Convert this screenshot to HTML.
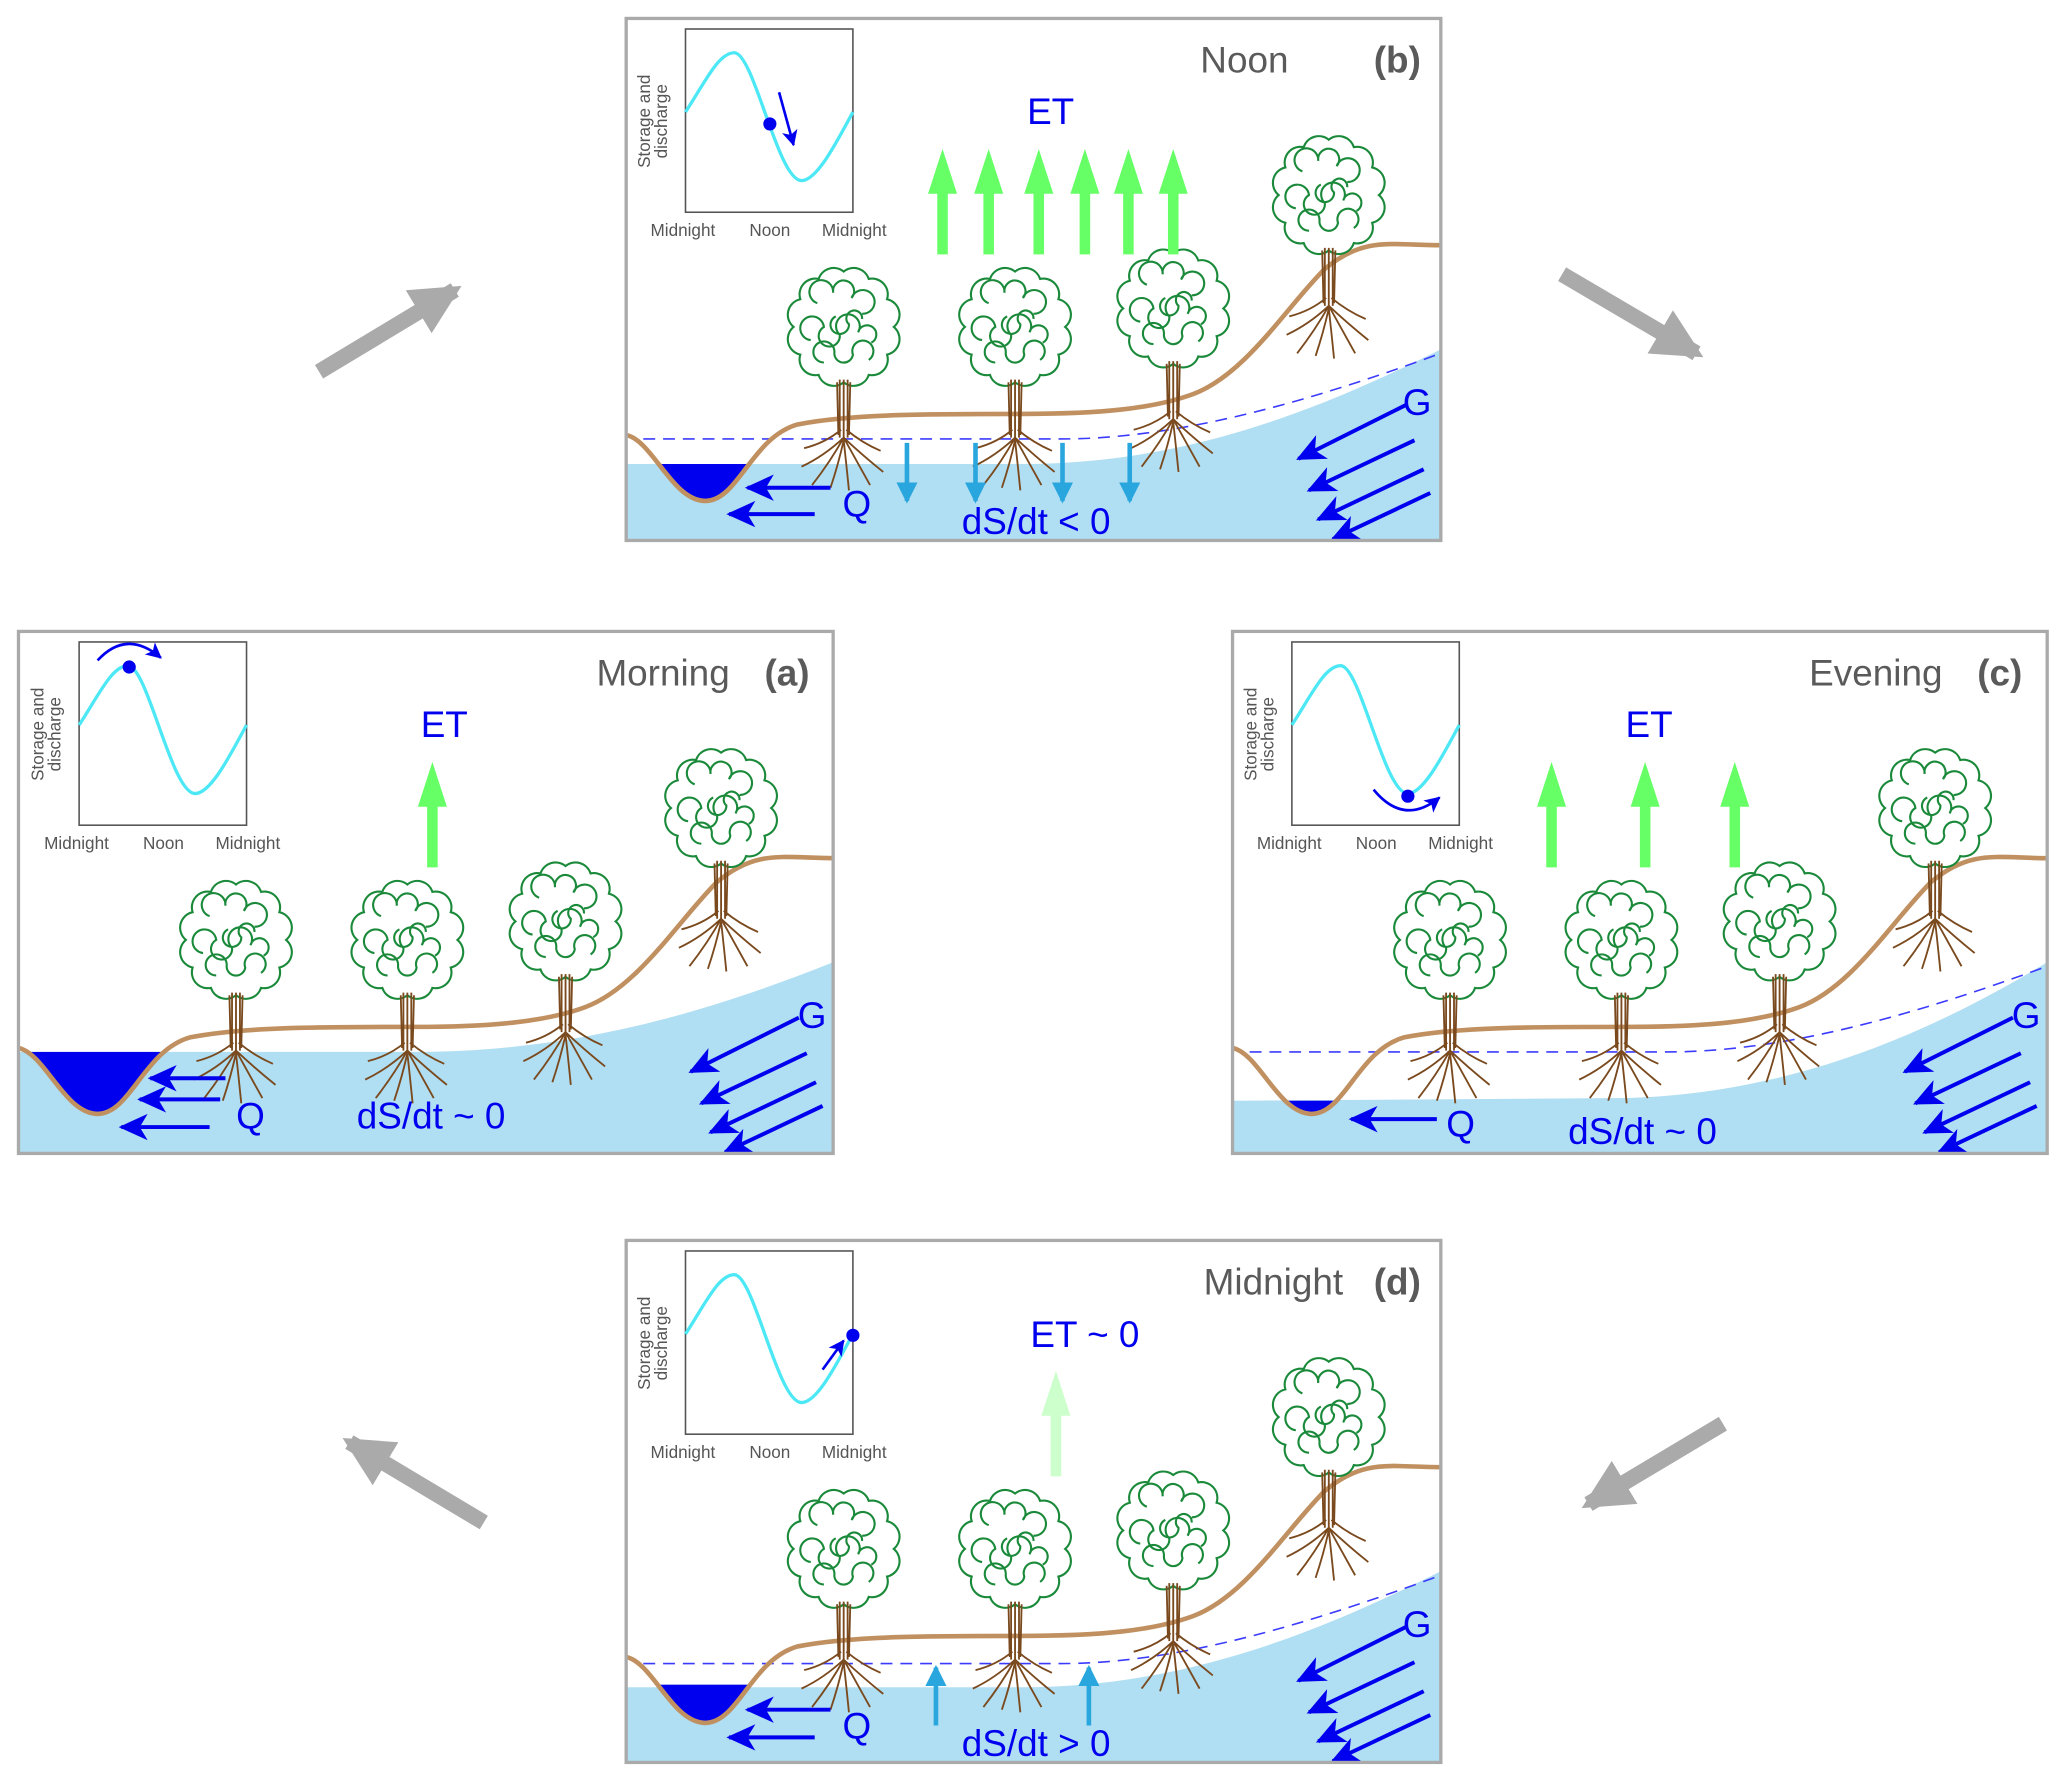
<!DOCTYPE html>
<html><head><meta charset="utf-8"><style>
html,body{margin:0;padding:0;background:#fff}
svg{display:block}
text{font-family:"Liberation Sans",sans-serif}
</style></head><body>
<svg width="2067" height="1783" viewBox="0 0 1568 1352.6" xmlns="http://www.w3.org/2000/svg">
<defs>
<marker id="bh" markerUnits="userSpaceOnUse" markerWidth="26" markerHeight="20" refX="20" refY="10" orient="auto"><path d="M0,0 L22,10 L0,20 L6,10 Z" fill="#0000ee"/></marker>
<marker id="bs" markerUnits="userSpaceOnUse" markerWidth="14" markerHeight="12" refX="11" refY="6" orient="auto"><path d="M0,0 L12,6 L0,12 L3,6 Z" fill="#0000ee"/></marker>
<marker id="lb" markerUnits="userSpaceOnUse" markerWidth="16" markerHeight="16" refX="14" refY="8" orient="auto"><path d="M0,0 L16,8 L0,16 Z" fill="#29a6dd"/></marker>
<marker id="ga" markerUnits="userSpaceOnUse" markerWidth="44" markerHeight="44" refX="32" refY="22" orient="auto"><path d="M0,3 L38,22 L0,41 Z" fill="#aaaaaa"/></marker>
<g id="tree">
<g fill="none" stroke="#1a8a3a" stroke-width="1.6" transform="translate(0,-12)">
<path d="M38,-72 A12,12 0 0 1 32.9,-51 A12,12 0 0 1 19,-35.6 A12,12 0 0 1 0,-30 A12,12 0 0 1 -19,-35.6 A12,12 0 0 1 -32.9,-51 A12,12 0 0 1 -38,-72 A12,12 0 0 1 -32.9,-93 A12,12 0 0 1 -19,-108.4 A12,12 0 0 1 0,-114 A12,12 0 0 1 19,-108.4 A12,12 0 0 1 32.9,-93 A12,12 0 0 1 38,-72 Z"/>
<path d="M-20,-90 a9,9 0 1 1 12,-8 a8,8 0 1 1 14,4 a9,9 0 1 1 8,12"/>
<path d="M-25,-62 a9,9 0 1 1 10,-10 a8,8 0 1 0 12,6 a9,9 0 1 1 14,-2 a7,7 0 1 1 10,8"/>
<path d="M-15,-45 a8,8 0 1 1 8,-8 a7,7 0 1 0 14,2 a8,8 0 1 1 12,4"/>
<path d="M-6,-80 a7,7 0 1 0 10,6 a6,6 0 1 1 10,-4"/>
</g>
<g fill="none" stroke="#7a4a1e" stroke-width="1.4">
<path d="M-3,-44 L-3,0 M0,-44 L0,2 M3,-44 L3,0 M-5,-42 L-4,-2 M5,-42 L4,-2"/>
<path d="M0,0 Q-15,14 -32,22 M0,0 Q-10,18 -24,36 M0,2 Q-4,20 -10,38 M0,2 Q2,20 4,40 M0,0 Q10,18 20,36 M0,0 Q15,14 30,26 M-2,-6 Q-14,4 -30,8 M2,-6 Q14,4 28,10"/>
</g>
</g>
<g id="inset">
<rect x="0" y="0" width="127" height="139" fill="#fff" stroke="#555" stroke-width="1.2"/>
<path d="M0,63 C15,40 25,18 37,18 C52,18 70,115 88,115 C100,115 115,85 127,63" fill="none" stroke="#4de8f5" stroke-width="2.5"/>
<text x="-2" y="157" font-size="13" fill="#555" text-anchor="middle">Midnight</text>
<text x="64" y="157" font-size="13" fill="#555" text-anchor="middle">Noon</text>
<text x="128" y="157" font-size="13" fill="#555" text-anchor="middle">Midnight</text>
<text transform="translate(-27,70) rotate(-90)" font-size="13" fill="#555" text-anchor="middle">Storage and</text>
<text transform="translate(-14,70) rotate(-90)" font-size="13" fill="#555" text-anchor="middle">discharge</text>
</g>
<g id="land">
<path d="M0,316 C20,320 35,366 60,366 C85,366 95,318 130,308 C170,300 230,300 300,300 C360,300 400,296 430,285 C470,270 500,220 530,190 C560,165 580,172 618,172" fill="none" stroke="#c09060" stroke-width="3.5"/>
<use href="#tree" x="165" y="318"/>
<use href="#tree" x="295" y="318"/>
<use href="#tree" x="415" y="304"/>
<use href="#tree" x="533" y="218"/>
</g>
<clipPath id="chan"><path d="M0,316 C20,320 35,366 60,366 C85,366 95,318 130,308 L130,0 L0,0 Z"/></clipPath>
<g id="garrows" stroke="#0000ee" stroke-width="3" marker-end="url(#bh)">
<line x1="592" y1="293" x2="510" y2="334"/>
<line x1="598" y1="320" x2="518" y2="358"/>
<line x1="605" y1="342" x2="525" y2="380"/>
<line x1="610" y1="360" x2="536" y2="395"/>
</g>
<polygon id="gup" points="-4,0 4,0 4,-46 11,-46 0,-80 -11,-46 -4,-46"/>
</defs>

<g stroke="#aaaaaa" stroke-width="12" marker-end="url(#ga)">
<line x1="242" y1="282" x2="345" y2="220"/>
<line x1="1185" y1="208" x2="1287" y2="268"/>
<line x1="1307" y1="1080" x2="1205" y2="1141"/>
<line x1="367" y1="1155" x2="265" y2="1094"/>
</g>

<g transform="translate(475,14)">
<rect x="0" y="0" width="618" height="396" fill="#fff"/>
<path d="M0,338 L300,338 C420,338 520,300 618,251 L618,396 L0,396 Z" fill="#b0def2"/>
<rect x="0" y="338" width="130" height="60" fill="#0000ee" clip-path="url(#chan)"/>
<path d="M13,319 L330,319 C420,319 520,290 618,254" fill="none" stroke="#3b3bff" stroke-width="1.2" stroke-dasharray="9,6"/>
<use href="#land"/>
<use href="#garrows"/>
<g stroke="#0000ee" stroke-width="3" marker-end="url(#bh)">
<line x1="155" y1="356" x2="92" y2="356"/><line x1="143" y1="376" x2="78" y2="376"/>
</g>
<g stroke="#29a6dd" stroke-width="3.5" marker-end="url(#lb)">
<line x1="213" y1="322" x2="213" y2="366"/><line x1="265" y1="322" x2="265" y2="366"/><line x1="331" y1="322" x2="331" y2="366"/><line x1="382" y1="322" x2="382" y2="366"/>
</g>
<g fill="#66ff66"><use href="#gup" x="240" y="179"/><use href="#gup" x="275" y="179"/><use href="#gup" x="313" y="179"/><use href="#gup" x="348" y="179"/><use href="#gup" x="381" y="179"/><use href="#gup" x="415" y="179"/></g>
<g transform="translate(45,8)"><use href="#inset"/><circle cx="64" cy="72" r="5" fill="#0000ee"/><line x1="71" y1="48" x2="82" y2="88" stroke="#0000ee" stroke-width="2" marker-end="url(#bs)"/></g>
<text x="469" y="41" font-size="28" fill="#5a5a5a" text-anchor="middle">Noon</text>
<text x="585" y="41" font-size="28" fill="#5a5a5a" font-weight="bold" text-anchor="middle">(b)</text>
<text x="322" y="80" font-size="28" fill="#0000ee" text-anchor="middle">ET</text>
<text x="175" y="378" font-size="28" fill="#0000ee" text-anchor="middle">Q</text>
<text x="311" y="391" font-size="28" fill="#0000ee" text-anchor="middle">dS/dt &lt; 0</text>
<text x="600" y="301" font-size="28" fill="#0000ee" text-anchor="middle">G</text>
<rect x="0" y="0" width="618" height="396" fill="none" stroke="#aaa" stroke-width="2.5"/>
</g>

<g transform="translate(14,479)">
<rect x="0" y="0" width="618" height="396" fill="#fff"/>
<path d="M0,319 L300,319 C420,319 520,290 618,251 L618,396 L0,396 Z" fill="#b0def2"/>
<rect x="0" y="319" width="130" height="80" fill="#0000ee" clip-path="url(#chan)"/>
<use href="#land"/>
<use href="#garrows"/>
<g stroke="#0000ee" stroke-width="3" marker-end="url(#bh)">
<line x1="157" y1="339" x2="100" y2="339"/><line x1="153" y1="355" x2="92" y2="355"/><line x1="145" y1="376" x2="78" y2="376"/>
</g>
<use href="#gup" x="314" y="179" fill="#66ff66"/>
<g transform="translate(46,8)"><use href="#inset"/><circle cx="38" cy="19" r="5" fill="#0000ee"/><path d="M14,14 Q36,-10 62,12" fill="none" stroke="#0000ee" stroke-width="2" marker-end="url(#bs)"/></g>
<text x="489" y="41" font-size="28" fill="#5a5a5a" text-anchor="middle">Morning</text>
<text x="583" y="41" font-size="28" fill="#5a5a5a" font-weight="bold" text-anchor="middle">(a)</text>
<text x="323" y="80" font-size="28" fill="#0000ee" text-anchor="middle">ET</text>
<text x="176" y="377" font-size="28" fill="#0000ee" text-anchor="middle">Q</text>
<text x="313" y="377" font-size="28" fill="#0000ee" text-anchor="middle">dS/dt ~ 0</text>
<text x="602" y="301" font-size="28" fill="#0000ee" text-anchor="middle">G</text>
<rect x="0" y="0" width="618" height="396" fill="none" stroke="#aaa" stroke-width="2.5"/>
</g>

<g transform="translate(935,479)">
<rect x="0" y="0" width="618" height="396" fill="#fff"/>
<path d="M0,356 L300,354 C420,350 520,310 618,251 L618,396 L0,396 Z" fill="#b0def2"/>
<rect x="0" y="356" width="130" height="40" fill="#0000ee" clip-path="url(#chan)"/>
<path d="M13,319 L330,319 C420,319 520,290 618,254" fill="none" stroke="#3b3bff" stroke-width="1.2" stroke-dasharray="9,6"/>
<use href="#land"/>
<use href="#garrows"/>
<g stroke="#0000ee" stroke-width="3" marker-end="url(#bh)"><line x1="155" y1="370" x2="90" y2="370"/></g>
<g fill="#66ff66"><use href="#gup" x="242" y="179"/><use href="#gup" x="313" y="179"/><use href="#gup" x="381" y="179"/></g>
<g transform="translate(45,8)"><use href="#inset"/><circle cx="88" cy="117" r="5" fill="#0000ee"/><path d="M62,112 Q85,140 112,118" fill="none" stroke="#0000ee" stroke-width="2" marker-end="url(#bs)"/></g>
<text x="488" y="41" font-size="28" fill="#5a5a5a" text-anchor="middle">Evening</text>
<text x="582" y="41" font-size="28" fill="#5a5a5a" font-weight="bold" text-anchor="middle">(c)</text>
<text x="316" y="80" font-size="28" fill="#0000ee" text-anchor="middle">ET</text>
<text x="173" y="383" font-size="28" fill="#0000ee" text-anchor="middle">Q</text>
<text x="311" y="389" font-size="28" fill="#0000ee" text-anchor="middle">dS/dt ~ 0</text>
<text x="602" y="301" font-size="28" fill="#0000ee" text-anchor="middle">G</text>
<rect x="0" y="0" width="618" height="396" fill="none" stroke="#aaa" stroke-width="2.5"/>
</g>

<g transform="translate(475,941)">
<rect x="0" y="0" width="618" height="396" fill="#fff"/>
<path d="M0,339 L300,339 C420,339 520,300 618,251 L618,396 L0,396 Z" fill="#b0def2"/>
<rect x="0" y="337" width="130" height="60" fill="#0000ee" clip-path="url(#chan)"/>
<path d="M13,321 L330,321 C420,321 520,290 618,254" fill="none" stroke="#3b3bff" stroke-width="1.2" stroke-dasharray="9,6"/>
<use href="#land"/>
<use href="#garrows"/>
<g stroke="#0000ee" stroke-width="3" marker-end="url(#bh)">
<line x1="155" y1="356" x2="92" y2="356"/><line x1="143" y1="377" x2="78" y2="377"/>
</g>
<g stroke="#29a6dd" stroke-width="3.5" marker-end="url(#lb)">
<line x1="235" y1="368" x2="235" y2="324"/><line x1="351" y1="368" x2="351" y2="324"/>
</g>
<use href="#gup" x="326" y="179" fill="#ccffcc"/>
<g transform="translate(45,8)"><use href="#inset"/><circle cx="127" cy="64" r="5" fill="#0000ee"/><line x1="104" y1="90" x2="120" y2="68" stroke="#0000ee" stroke-width="2" marker-end="url(#bs)"/></g>
<text x="491" y="41" font-size="28" fill="#5a5a5a" text-anchor="middle">Midnight</text>
<text x="585" y="41" font-size="28" fill="#5a5a5a" font-weight="bold" text-anchor="middle">(d)</text>
<text x="348" y="81" font-size="28" fill="#0000ee" text-anchor="middle">ET ~ 0</text>
<text x="175" y="378" font-size="28" fill="#0000ee" text-anchor="middle">Q</text>
<text x="311" y="391" font-size="28" fill="#0000ee" text-anchor="middle">dS/dt &gt; 0</text>
<text x="600" y="301" font-size="28" fill="#0000ee" text-anchor="middle">G</text>
<rect x="0" y="0" width="618" height="396" fill="none" stroke="#aaa" stroke-width="2.5"/>
</g>
</svg>
</body></html>
